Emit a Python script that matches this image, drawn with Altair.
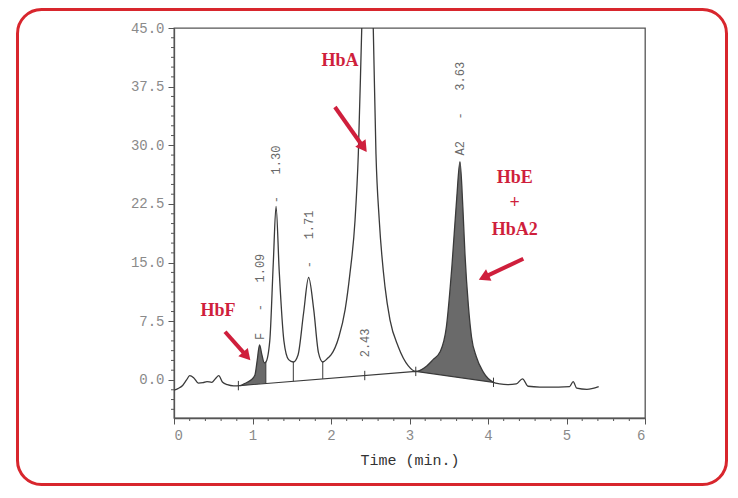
import altair as alt
import pandas as pd
import numpy as np

# ---- chromatogram trace (time in min, signal) ----
time = [0.00, 0.05, 0.11, 0.16, 0.20, 0.25, 0.31, 0.37, 0.42, 0.48, 0.53, 0.57, 0.62, 0.68, 0.76,
        0.84, 0.90, 0.98, 1.03, 1.06, 1.09, 1.12, 1.15, 1.17, 1.22, 1.265, 1.30, 1.34, 1.40, 1.46,
        1.52, 1.58, 1.65, 1.715, 1.78, 1.84, 1.895, 1.96, 2.00, 2.10, 2.18, 2.24, 2.306, 2.348, 2.391,
        2.465, 2.539, 2.573, 2.615, 2.688, 2.752, 2.857, 2.985, 3.08, 3.22, 3.30, 3.39, 3.47, 3.54,
        3.60, 3.643, 3.68, 3.707, 3.75, 3.79, 3.85, 3.94, 4.07, 4.15, 4.25, 4.36, 4.44, 4.51, 4.66,
        4.90, 5.04, 5.085, 5.13, 5.26, 5.41]
signal = [-1.3, -1.1, -0.7, 0.0, 0.55, 0.3, -0.4, -0.35, -0.2, -0.3, 0.2, 0.55, -0.3, -0.6, -0.75,
          -0.72, -0.45, 0.0, 0.6, 2.5, 4.5, 3.2, 2.2, 2.3, 5.0, 15.0, 22.2, 14.0, 5.0, 2.6,
          2.3, 3.2, 8.5, 13.1, 9.0, 3.5, 2.3, 2.8, 3.2, 5.5, 9.0, 13.5, 20.4, 28.9, 44.7,
          70.0, 44.7, 28.9, 20.4, 11.9, 7.66, 4.25, 1.8, 1.1, 1.8, 2.6, 3.6, 6.8, 14.5,
          23.0, 27.9, 22.0, 16.0, 9.5, 5.5, 3.0, 1.0, -0.3, -0.5, -0.6, -0.5, 0.15, -0.8, -0.9,
          -0.9, -0.85, -0.2, -1.05, -1.2, -0.85]

# integration baseline
base_t = [0.84, 3.08, 4.07]
base_y = [-0.72, 1.1, -0.3]

# shaded peaks (start, end)
shade_start = [0.84, 3.08]
shade_end = [1.17, 4.07]
shade_name = ["HbF", "HbE+A2"]

# drop lines and baseline marks
drop_t = [1.17, 1.52, 1.895]
mark_t = [0.82, 2.43, 3.08, 4.07]

# peak retention-time labels (non-breaking spaces keep the printer spacing)
NB = "\u00a0"
rt_t = [1.09, 1.30, 1.715, 2.43, 3.643]
rt_y = [5.1, 22.6, 14.3, 2.9, 28.7]
rt_text = ["F   -   1.09", "   -   1.30", "   -   1.71", "2.43", "A2   -   3.63"]
rt_text = [s.replace(" ", NB) for s in rt_text]

# red annotations
ann_text = ["HbA", "HbF", "HbE", "+", "HbA2"]
ann_t = [2.115, 0.56, 4.34, 4.34, 4.34]
ann_y = [40.8, 8.8, 25.8, 22.6, 19.2]

arrow_t0 = [2.05, 0.65, 4.45]
arrow_y0 = [34.9, 6.17, 15.5]
arrow_t1 = [2.459, 0.977, 3.877]
arrow_y1 = [29.1, 2.47, 12.8]

y_ticks = [0.0, 7.5, 15.0, 22.5, 30.0, 37.5, 45.0]
x_ticks = [0, 1, 2, 3, 4, 5, 6]

# ---- layout ----
W, H = 471, 390
XMIN, XMAX = 0, 6
YMIN, YMAX = -4.86, 45
RED = "#cf1f3c"
BORDER = "#d8262d"
INK = "#3a3a3a"

sx = W / (XMAX - XMIN)
sy = H / (YMAX - YMIN)

xs = alt.Scale(domain=[XMIN, XMAX], nice=False, zero=False)
ys = alt.Scale(domain=[YMIN, YMAX], nice=False, zero=False)

curve = pd.DataFrame({"t": time, "y": signal})

# shaded areas
rows = []
for a, b, n in zip(shade_start, shade_end, shade_name):
    for t, y in zip(time, signal):
        if a - 1e-9 <= t <= b + 1e-9:
            rows.append({"t": t, "y": y, "b": float(np.interp(t, base_t, base_y)), "r": n})
shade = pd.DataFrame(rows)

drops = pd.DataFrame({
    "t": drop_t,
    "y": [float(np.interp(t, time, signal)) for t in drop_t],
    "b": [float(np.interp(t, base_t, base_y)) for t in drop_t],
})
marks = pd.DataFrame({
    "t": mark_t,
    "y": [float(np.interp(t, base_t, base_y)) - 0.6 for t in mark_t],
    "y2": [float(np.interp(t, base_t, base_y)) + 0.6 for t in mark_t],
})
base = pd.DataFrame({"t": base_t, "y": base_y})
rts = pd.DataFrame({"t": rt_t, "y": rt_y, "s": rt_text})
anns = pd.DataFrame({"t": ann_t, "y": ann_y, "s": ann_text})

# arrows: shaft + rotated triangle heads
heads = []
for t0, y0, t1, y1 in zip(arrow_t0, arrow_y0, arrow_t1, arrow_y1):
    dx = (t1 - t0) * sx
    dy = -(y1 - y0) * sy
    L = np.hypot(dx, dy)
    ux, uy = dx / L, dy / L
    ang = float(np.degrees(np.arctan2(dx, -dy)) % 360)
    back = 6.0
    ct = t1 - back * ux / sx
    cy = y1 + back * uy / sy
    heads.append({"t0": t0, "y0": y0, "tc": ct, "yc": cy, "ang": ang})
heads = pd.DataFrame(heads)

X = lambda f: alt.X(f, type="quantitative", scale=xs)
Y = lambda f: alt.Y(f, type="quantitative", scale=ys)

area = alt.Chart(shade).mark_area(interpolate="monotone", color="#5a5a5a", opacity=0.9).encode(
    x=alt.X("t:Q", scale=xs,
            axis=alt.Axis(values=x_ticks, format="d", title="Time (min.)", grid=False)),
    y=alt.Y("y:Q", scale=ys,
            axis=alt.Axis(values=y_ticks, format=".1f", title=None, grid=False)),
    y2="b:Q",
    detail="r:N",
)

baseline = alt.Chart(base).mark_line(color=INK, strokeWidth=1.1).encode(x=X("t"), y=Y("y"))
droplines = alt.Chart(drops).mark_rule(color=INK, strokeWidth=1).encode(x=X("t"), y=Y("y"), y2="b:Q")
basemarks = alt.Chart(marks).mark_rule(color=INK, strokeWidth=1).encode(x=X("t"), y=Y("y"), y2="y2:Q")

line = alt.Chart(curve).mark_line(interpolate="monotone", color=INK, strokeWidth=1.3, clip=True).encode(
    x=X("t"), y=Y("y"))

# minor ticks
xminor = pd.DataFrame({"t": [v for v in np.round(np.arange(0, 6.001, 0.2), 2) if abs(v - round(v)) > 1e-6]})
yminor = pd.DataFrame({"y": [v for v in np.round(np.arange(-3.75, 45.0, 1.25), 2) if abs(v / 7.5 - round(v / 7.5)) > 1e-6]})
xmin_r = alt.Chart(xminor).mark_rule(color="#555", strokeWidth=1).encode(
    x=X("t"), y=alt.value(H), y2=alt.value(H + 3))
ymin_r = alt.Chart(yminor).mark_rule(color="#555", strokeWidth=1).encode(
    y=Y("y"), x=alt.value(-3), x2=alt.value(0))

rt_labels = alt.Chart(rts).mark_text(angle=270, align="left", baseline="middle",
                                     font="Liberation Mono", fontSize=12, color="#6a6a6a").encode(
    x=X("t"), y=Y("y"), text="s:N")

ann_labels = alt.Chart(anns).mark_text(font="Liberation Serif", fontWeight="bold", fontSize=18,
                                       color=RED, align="center", baseline="middle").encode(
    x=X("t"), y=Y("y"), text="s:N")

shafts = alt.Chart(heads).mark_rule(color=RED, strokeWidth=4).encode(
    x=X("t0"), y=Y("y0"), x2="tc:Q", y2="yc:Q")
tips = alt.Chart(heads).mark_point(shape="triangle-up", filled=True, color=RED, size=160, opacity=1).encode(
    x=X("tc"), y=Y("yc"), angle=alt.Angle("ang:Q", scale=None))

frame = alt.Chart(pd.DataFrame({"a": [0]})).mark_rect(
    filled=False, stroke=BORDER, strokeWidth=3, cornerRadius=24, fill=None).encode(
    x=alt.value(-156.5), x2=alt.value(552.5), y=alt.value(-18.5), y2=alt.value(456.5))

chart = alt.layer(
    area, baseline, droplines, basemarks, line, xmin_r, ymin_r,
    rt_labels, ann_labels, shafts, tips, frame
).properties(
    width=W, height=H,
    padding={"left": 166, "top": 20, "right": 83, "bottom": 68},
    autosize=alt.AutoSizeParams(type="none"),
).configure_view(
    stroke="#555", strokeWidth=1.3
).configure_axis(
    domainColor="#555", domainWidth=1.3, tickColor="#555", tickSize=6,
    labelColor="#8a8a8a", labelFont="Liberation Mono", labelFontSize=14, labelPadding=4,
    titleFont="Liberation Mono", titleFontSize=15, titleColor="#333", titleFontWeight="normal",
    titlePadding=10,
)

chart.save("out.html", embed_options={"renderer": "svg", "actions": False})
